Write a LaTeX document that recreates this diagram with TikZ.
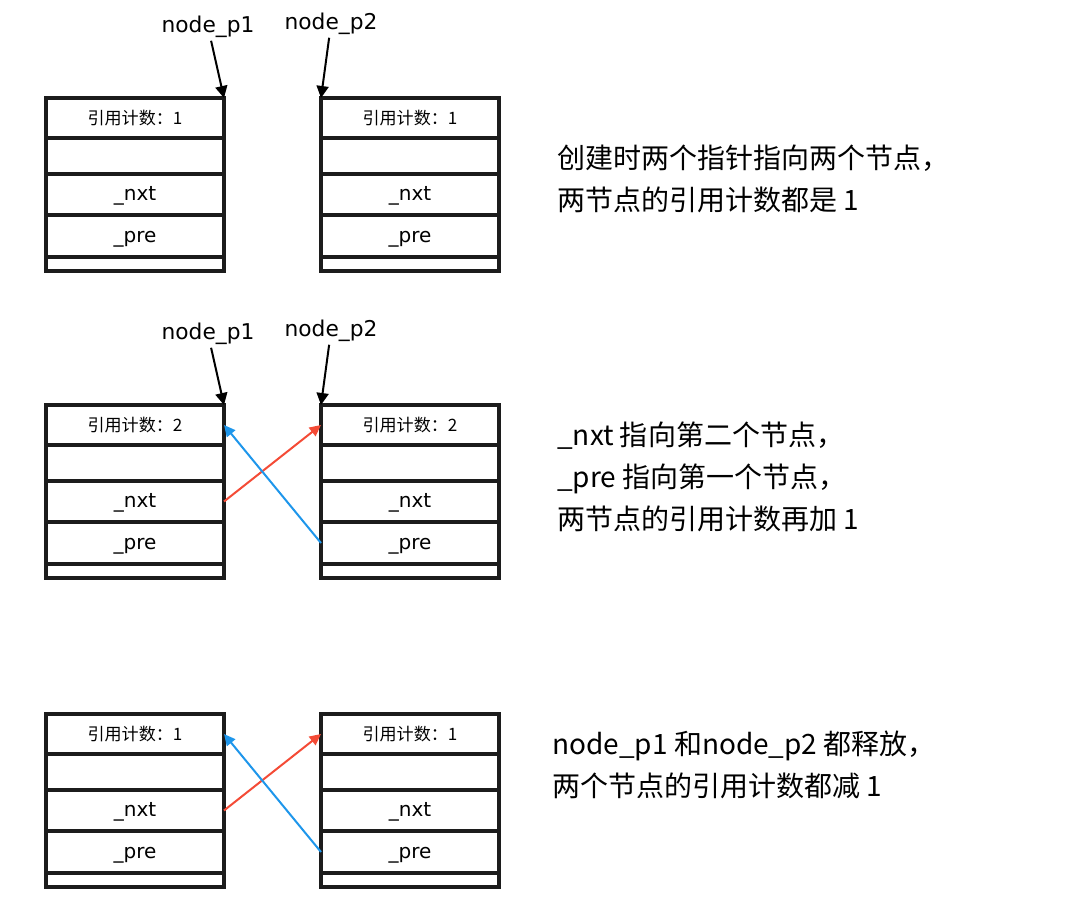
\documentclass[tikz,border=0pt]{standalone}
\usepackage{fontspec}
\setmainfont{Noto Sans CJK SC}
\newfontfamily\latinfont{DejaVu Sans}
\usetikzlibrary{arrows.meta,positioning}
\definecolor{frame}{HTML}{1C1C1C}
\definecolor{nxtred}{HTML}{F44B36}
\definecolor{preblue}{HTML}{1E96EB}
\tikzset{
  cell/.style={draw=frame,fill=white,line width=2.5pt,minimum width=133.5pt,inner sep=0pt,
    outer sep=0pt,font=\latinfont\fontsize{15}{18}\selectfont},
  field/.style={cell,text height=9.5pt,text depth=0pt},
  cntcell/.style={cell,minimum height=30pt,font=\fontsize{12.8}{15}\selectfont},
  ptrlabel/.style={inner sep=2pt,font=\latinfont\fontsize{16.3}{20}\selectfont},
  ptr/.style={-{Triangle[length=9pt,width=9pt]},line width=1.5pt,draw=black},
  nxtlink/.style={-{Triangle[length=8.5pt,width=8pt]},line width=1.5pt,draw=nxtred},
  prelink/.style={-{Triangle[length=8.5pt,width=8pt]},line width=1.5pt,draw=preblue},
  note/.style={align=left,anchor=west,inner sep=0pt,font=\fontsize{21}{31.5}\selectfont}
}
\begin{document}
\begin{tikzpicture}[x=0.75pt,y=-0.75pt]
  \useasboundingbox (0,0) rectangle (1090,916);
  % two list nodes per stage
  \foreach \r/\top/\c in {a/98/1,b/405/2,c/714/1}{
    \foreach \s/\x in {L/135,R/410}{
      \node[cntcell,anchor=north] (\r-\s-cnt) at (\x,\top) {引用计数：\c};
      \node[cell,minimum height=27pt,below=0pt of \r-\s-cnt] (\r-\s-nil) {};
      \node[field,minimum height=30.75pt,below=0pt of \r-\s-nil] (\r-\s-nxt) {\_nxt};
      \node[field,minimum height=31.5pt,below=0pt of \r-\s-nxt] (\r-\s-pre) {\_pre};
      \node[cell,minimum height=10.5pt,below=0pt of \r-\s-pre] (\r-\s-end) {};
    }
  }
  % pointers
  \node[ptrlabel] (p1-a) at (208,27) {node\_p1};
  \node[ptrlabel] (p2-a) at (331,24) {node\_p2};
  \node[ptrlabel] (p1-b) at (208,334) {node\_p1};
  \node[ptrlabel] (p2-b) at (331,331) {node\_p2};
  \draw[ptr] (p1-a) -- (a-L-cnt.north east);
  \draw[ptr] (p2-a) -- (a-R-cnt.north west);
  \draw[ptr] (p1-b) -- (b-L-cnt.north east);
  \draw[ptr] (p2-b) -- (b-R-cnt.north west);
  % _nxt / _pre links
  \draw[nxtlink] (b-L-nxt.east) -- (b-R-cnt.west);
  \draw[prelink] (b-R-pre.west) -- (b-L-cnt.east);
  \draw[nxtlink] (c-L-nxt.east) -- (c-R-cnt.west);
  \draw[prelink] (c-R-pre.west) -- (c-L-cnt.east);
  % notes
  \node[note] (note-a) at (557,179) {创建时两个指针指向两个节点，\\两节点的引用计数都是 1};
  \node[note] (note-b) at (557,477) {\_nxt 指向第二个节点，\\\_pre 指向第一个节点，\\两节点的引用计数再加 1};
  \node[note] (note-c) at (552,765) {node\_p1 和node\_p2 都释放，\\两个节点的引用计数都减 1};
\end{tikzpicture}
\end{document}
